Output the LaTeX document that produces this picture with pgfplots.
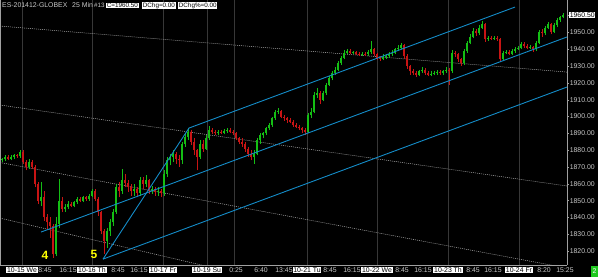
\documentclass[border=0pt]{standalone}
\usepackage{pgfplots}
\pgfplotsset{compat=1.18}
\usepackage{pgfplotstable}
\usepackage{fontspec}
\setmainfont{Liberation Sans}
\definecolor{upc}{RGB}{20,190,20}
\definecolor{dnc}{RGB}{200,20,20}
\definecolor{bluec}{RGB}{20,140,200}
\definecolor{dotc}{RGB}{175,175,175}
\definecolor{gridc}{RGB}{55,55,55}
\definecolor{axgray}{RGB}{160,160,160}
\definecolor{labgray}{RGB}{200,200,200}
\definecolor{ylw}{RGB}{255,255,0}
\definecolor{boxgreen}{RGB}{30,200,30}
\newcommand{\sm}{\fontsize{6.9}{7.5}\selectfont}
\newcommand{\hd}{\fontsize{6.3}{7}\selectfont}

\pgfplotstableread{
x o h l c
2 1874 1875.5 1873 1874.5
5 1874.5 1877 1873.5 1876
11 1875 1877 1874 1876
14 1876 1878 1875 1877
20 1876.5 1880 1875.5 1879
29 1870 1875 1869 1873
41 1850 1861 1847 1852
56 1818 1840 1817 1836
59 1836 1863 1834 1850
65 1845 1848 1843.5 1846
68 1846 1849.5 1845 1848
74 1847 1850 1846 1849
77 1849 1852 1848 1851
83 1850 1853 1849 1852
89 1851 1854 1850 1853
92 1853 1857 1852 1856
107 1826 1834 1822 1832
110 1832 1839 1829 1837
113 1837 1845 1835 1843
116 1843 1860 1842 1858
122 1856 1869 1854 1862
134 1856 1860 1853 1857
140 1854.5 1864 1853 1862
146 1860 1865 1858 1862
152 1856 1859 1854 1857
158 1855 1858 1853 1856
164 1854.5 1868 1853 1866
167 1866 1876 1864 1874
170 1874 1878 1871 1876
173 1876 1880 1873 1878
182 1874 1885 1872 1884
185 1884 1889.5 1882 1888
188 1888 1893 1886 1891
200 1876 1886 1875 1884
206 1881 1889 1880 1887
209 1887 1894.5 1886 1892
218 1890 1892 1889 1891
224 1890.5 1892.5 1889.5 1891.5
227 1891.5 1893 1890.5 1892
254 1876 1880 1872 1878
257 1878 1887 1877 1886
260 1886 1890 1884 1889
263 1889 1891 1887 1890
266 1890 1894 1889 1893
269 1893 1896.5 1892 1895
272 1895 1900 1894 1899
275 1899 1904 1898 1903
278 1903 1905 1901.5 1903.5
308 1891 1902 1890 1901
311 1901 1905 1899 1903
314 1903 1914.5 1902 1913
317 1913 1917 1911 1914
323 1910 1915.5 1909 1914
326 1914 1920 1913 1919
329 1919 1924 1918 1923
332 1923 1927 1921.5 1926
335 1926 1929.5 1925 1928
338 1928 1933 1927 1932
341 1932 1936 1931 1935
344 1935 1939.5 1934 1938
347 1938 1940 1937 1939
353 1938 1939 1937 1938.5
362 1937 1938.5 1936 1937.5
368 1937 1939.5 1936 1938.5
371 1938.5 1945 1937.5 1940
383 1934.5 1937 1933.5 1935.5
386 1935.5 1937.5 1934.5 1936
389 1936 1938.5 1935 1937
392 1937 1939.5 1936 1938
395 1938 1941 1937 1940
398 1940 1942.5 1939 1941
401 1941 1944 1940 1942.5
419 1925 1928 1924 1927
422 1927 1929.5 1926 1928
431 1925 1927 1924 1925.5
434 1925.5 1927 1924.5 1926
437 1926 1928 1925 1926.5
443 1926 1928 1925 1927
446 1927 1929.5 1926 1928
452 1927 1939.5 1926 1938
464 1932 1940 1931 1939
467 1939 1945 1938 1944
470 1944 1949 1943 1947.5
473 1947.5 1952.5 1946.5 1951
479 1949.5 1954.5 1948.5 1953
482 1953 1957 1952 1955
488 1946 1948 1945 1947
494 1946.5 1948 1945.5 1947
503 1934 1939 1933 1938
506 1938 1939.5 1937 1938.5
512 1937.5 1940 1936.5 1939
515 1939 1941.5 1938 1940.5
518 1940.5 1942 1939.5 1941
521 1941 1944.5 1940 1943.5
530 1941 1942.5 1940 1941.5
536 1940 1945 1939 1944
539 1944 1951.5 1943 1950.5
545 1949.5 1954 1948.5 1953
548 1953 1956.5 1952 1955
554 1950.5 1955.5 1950 1954.5
557 1954.5 1958.5 1953.5 1957.5
560 1957.5 1960 1956.5 1959
563 1959 1961.5 1958.5 1960.5
}\uptab

\pgfplotstableread{
x o h l c
8 1876 1877 1874 1875
17 1877 1878 1875.5 1876.5
23 1879 1880 1872 1873
26 1873 1874 1868 1870
32 1873 1874 1869 1870
35 1870 1871 1858 1860
38 1860 1861 1848 1850
44 1852 1856 1838 1840
47 1840 1842 1833 1837
50 1837 1840 1828 1835
53 1835 1836 1816 1818
62 1850 1852 1843 1845
71 1848 1849 1846 1847
80 1851 1852 1849 1850
86 1852 1853 1850 1851
95 1856 1857 1850 1851
98 1851 1852 1841 1843
101 1843 1844 1830 1832
104 1832 1833 1818 1826
119 1858 1861 1852 1856
125 1862 1866 1858 1860.5
128 1860.5 1862 1855 1858
131 1858 1860 1853 1856
137 1857 1858 1852 1854.5
143 1862 1864 1857 1860
149 1862 1863 1854 1856
155 1857 1858 1853 1855
161 1856 1857 1852 1854.5
176 1878 1879 1872 1875
179 1875 1877 1870 1874
191 1891 1892 1883 1885
194 1885 1887 1877 1880
197 1880 1881 1868 1876
203 1884 1886 1879 1881
212 1892 1893 1889.5 1891
215 1891 1892 1889 1890
221 1891 1892 1889.5 1890.5
230 1892 1893 1890 1891
233 1891 1892 1889 1890
236 1890 1891 1886 1887
239 1887 1888 1883.5 1885
242 1885 1887 1882 1884
245 1884 1885 1879 1881
248 1881 1882 1876 1878
251 1878 1880 1874 1876
281 1903.5 1904 1899 1900
284 1900 1901 1897.5 1899
287 1899 1900 1896.5 1898
290 1898 1899 1896 1897
293 1897 1898 1894 1895
296 1895 1896 1893 1894
299 1894 1895 1892 1893
302 1893 1894 1890.5 1892
305 1892 1893 1889 1891
320 1914 1915 1907.5 1910
350 1939 1940 1937 1938
356 1938.5 1939 1936.5 1937.5
359 1937.5 1938.5 1936 1937
365 1937.5 1938.5 1936 1937
374 1940 1941 1936 1937
377 1937 1938 1933.5 1935
380 1935 1936 1933 1934.5
404 1942.5 1943 1934.5 1936
407 1936 1937 1928.5 1930
410 1930 1931 1925 1927
413 1927 1928.5 1924.5 1926
416 1926 1927 1923.5 1925
425 1928 1929 1925 1926
428 1926 1927 1924 1925
440 1926.5 1927.5 1925 1926
449 1928 1929 1919 1927
455 1938 1939 1935.5 1937
458 1937 1938 1932.5 1934
461 1934 1935 1930 1932
476 1951 1952 1948 1949.5
485 1955 1955.5 1944.5 1946
491 1947 1948 1945.5 1946.5
497 1947 1948 1945 1946
500 1946 1946.5 1933 1934
509 1938.5 1939.5 1936.5 1937.5
524 1943.5 1944.5 1941 1942
527 1942 1943 1940 1941
533 1941.5 1942 1938.5 1940
542 1950.5 1952 1947.5 1949.5
551 1955 1955.5 1949 1950.5
}\dntab

\begin{document}
\begin{tikzpicture}
\path[use as bounding box, fill=black] (0pt,0pt) rectangle (598pt,277pt);
\begin{axis}[
  at={(0pt,12pt)}, anchor=south west,
  width=567pt, height=265pt, scale only axis,
  xmin=0, xmax=567, ymin=1811.7, ymax=1969.4,
  axis x line*=bottom, axis y line*=right,
  axis line style={draw=axgray, line width=0.6pt},
  tick align=outside, major tick length=2pt, minor tick length=0pt,
  xtick={22,92,163,207,307,377,448,519},
  xticklabels={10-15 We,10-16 Th,10-17 Fr,10-19 Su,10-21 Tu,10-22 We,10-23 Th,10-24 Fr},
  xtick style={draw=none},
  xticklabel style={font=\sm, fill=white, text=black, inner sep=0.7pt, yshift=0.4pt},
  extra x ticks={45,68,118,139,236,261,284,330,352,402,423,473,493,544,565},
  extra x tick labels={8:45,16:15,8:45,16:15,0:25,6:40,13:45,8:45,16:15,8:45,16:15,8:45,16:15,8:20,15:25},
  extra x tick style={grid=none, tick style={draw=none}, xticklabel style={fill=none, text=labgray}},
  minor xtick={234},
  xmajorgrids, xminorgrids,
  major grid style={gridc, line width=0.7pt},
  minor grid style={gridc, line width=0.7pt},
  ytick={1820,1830,...,1950},
  ytick style={draw=axgray, line width=0.5pt},
  yticklabel style={font=\sm, text=labgray, inner sep=0.6pt,
    /pgf/number format/fixed, /pgf/number format/fixed zerofill,
    /pgf/number format/precision=2, /pgf/number format/1000 sep={},
    /pgf/number format/assume math mode=true},
  extra y ticks={1960.5},
  extra y tick style={yticklabel style={fill=white, text=black}},
]
% gray dotted trend lines
\addplot[dotc, line width=0.5pt, dash pattern=on 1pt off 1pt] coordinates {(0,1953.9) (567,1926.5)};
\addplot[dotc, line width=0.5pt, dash pattern=on 1pt off 1pt] coordinates {(0,1906.9) (567,1858.7)};
\addplot[dotc, line width=0.5pt, dash pattern=on 1pt off 1pt] coordinates {(0,1872.7) (567,1809.9)};
\addplot[dotc, line width=0.5pt, dash pattern=on 1pt off 1pt] coordinates {(0,1839.6) (210,1810.5)};
% candles: wicks
\addplot[draw=none, forget plot, error bars/.cd, y dir=plus, y explicit, error mark=none,
  error bar style={draw=upc, line width=0.6pt}]
  table[x=x, y=l, y error plus expr=\thisrow{h}-\thisrow{l}] {\uptab};
\addplot[draw=none, forget plot, error bars/.cd, y dir=plus, y explicit, error mark=none,
  error bar style={draw=dnc, line width=0.6pt}]
  table[x=x, y=l, y error plus expr=\thisrow{h}-\thisrow{l}] {\dntab};
% candles: bodies
\addplot[draw=none, forget plot, error bars/.cd, y dir=plus, y explicit, error mark=none,
  error bar style={draw=upc, line width=2.0pt}]
  table[x=x, y=o, y error plus expr=\thisrow{c}-\thisrow{o}] {\uptab};
\addplot[draw=none, forget plot, error bars/.cd, y dir=plus, y explicit, error mark=none,
  error bar style={draw=dnc, line width=2.0pt}]
  table[x=x, y=c, y error plus expr=\thisrow{o}-\thisrow{c}] {\dntab};
% blue pitchfork / channel lines
\addplot[bluec, line width=0.9pt] coordinates {(41,1831.3) (567,1947.4)};
\addplot[bluec, line width=0.9pt] coordinates {(103,1815.2) (567,1917.6)};
\addplot[bluec, line width=0.9pt] coordinates {(103,1815.2) (189,1893.2) (515,1965.2)};
\draw[axgray, line width=0.6pt] (rel axis cs:0,0) -- (rel axis cs:0,1);
\end{axis}
% header texts
\node[anchor=west, inner sep=0pt, font=\sm, text=labgray] at (2pt,271.5pt) {ES-201412-GLOBEX};
\node[anchor=west, inner sep=0pt, font=\sm, text=labgray] at (72pt,271.5pt) {25 Min};
\node[anchor=west, inner sep=0pt, font=\hd, text=labgray] at (94pt,271.5pt) {\#13};
\node[anchor=west, inner sep=0.7pt, font=\hd, fill=white, text=black] at (106pt,271.5pt) {C=1960.50};
\node[anchor=west, inner sep=0.7pt, font=\hd, fill=white, text=black] at (142pt,271.5pt) {DChg=0.00};
\node[anchor=west, inner sep=0.7pt, font=\hd, fill=white, text=black] at (178pt,271.5pt) {DChg\%=0.00};
% wave labels
\node[font=\fontsize{12}{12}\selectfont\bfseries, text=ylw, inner sep=0pt] at (45pt,22pt) {4};
\node[font=\fontsize{12}{12}\selectfont\bfseries, text=ylw, inner sep=0pt] at (94pt,23pt) {5};
% green status box
\node[fill=boxgreen, text=white, font=\sm, inner sep=0.8pt, minimum width=7pt, minimum height=11pt] at (594.5pt,6pt) {2};
\end{tikzpicture}
\end{document}
